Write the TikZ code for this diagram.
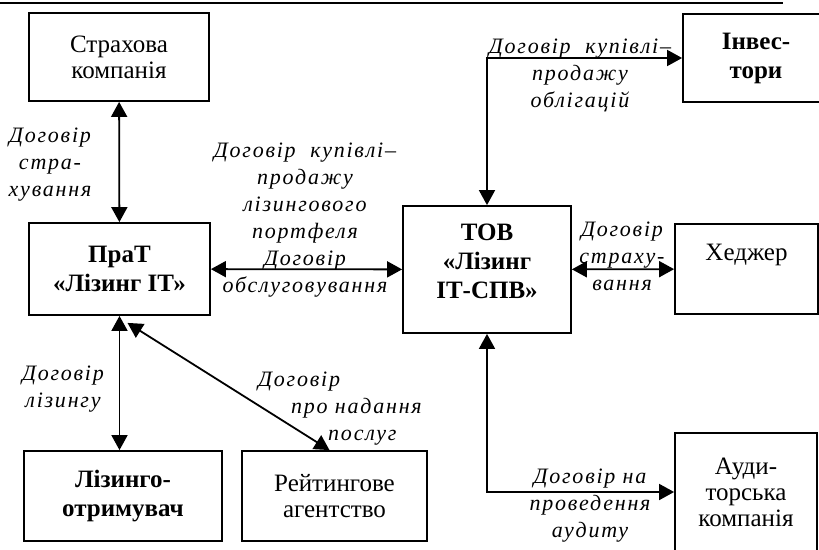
\documentclass[tikz,border=0pt]{standalone}
\usepackage{fontspec}
\setmainfont{Liberation Serif}
\newfontfamily\lblfont{Liberation Serif}[LetterSpace=8]
\usepackage{tikz}
\usetikzlibrary{arrows.meta,calc}
\newcommand{\lbl}[1]{{\lblfont\itshape #1}}

\begin{document}
\begin{tikzpicture}[x=1pt, y=-1pt, line width=1.8pt,
	every node/.style={align=center},
	party/.style={draw, line width=1.8pt, inner sep=0pt,
		font=\fontsize{25}{26}\selectfont},
	heavy/.style={party, font=\bfseries\fontsize{25}{29}\selectfont},
	deal/.style={font=\fontsize{22}{27}\selectfont},
	both/.style={{Triangle[length=15pt,width=16pt]}-{Triangle[length=15pt,width=16pt]}}]
	\useasboundingbox (0,0) rectangle (819,549);
	\draw (0,3) -- (783,3);
	% parties
	\node[party, minimum width=180pt, minimum height=88pt] (strah) at (119,57) {Страхова\\компанія};
	\node[heavy, minimum width=181pt, minimum height=92pt] (prat) at (119.5,269) {ПраТ\\«Лізинг ІТ»};
	\node[heavy, minimum width=168pt, minimum height=127pt] (tov) at (487,269.5) {ТОВ\\«Лізинг\\ІТ-СПВ»\\[-12pt]};
	\node[heavy, minimum width=146pt, minimum height=88pt] (invest) at (756,58) {Інвес-\\тори};
	\node[party, minimum width=143pt, minimum height=90pt, text height=17pt, text depth=35pt] (hedger) at (746.5,269) {Хеджер};
	\node[heavy, minimum width=198pt, minimum height=90pt] (lizotr) at (123,496) {Лізинго-\\отримувач};
	\node[party, minimum width=185pt, minimum height=90pt] (reyt) at (334.5,496) {Рейтингове\\агентство};
	\node[party, minimum width=142pt, minimum height=118pt] (audit) at (746,492) {Ауди-\\торська\\компанія};
	% contracts
	\draw[both] (strah) -- (prat);
	\draw[both] (prat) -- (tov);
	\draw[both] (prat.south) -- (prat.south |- lizotr.north);
	\draw[both] ($(prat.south)+(8,7)$) -- ($(reyt.north)+(-5,0)$);
	\draw[both] (tov.north) |- (invest.west);
	\draw[both] (tov) -- (hedger);
	\draw[both] (tov.south) |- (audit.west);
	% labels
	\node[deal] (lstrah) at (50,165) {\lbl{Договір}\\\lbl{стра-}\\\lbl{хування}};
	\node[deal] (lport) at (305,220) {\lbl{Договір\ \ купівлі–}\\\lbl{продажу}\\\lbl{лізингового}\\\lbl{портфеля}\\\lbl{Договір}\\\lbl{обслуговування}};
	\node[deal] (lobl) at (580,75) {\lbl{Договір\ \ купівлі–}\\\lbl{продажу}\\\lbl{облігацій}};
	\node[deal] (lhedg) at (622,256) {\lbl{Договір}\\\lbl{страху-}\\\lbl{вання}};
	\node[deal] (lliz) at (63,389) {\lbl{Договір}\\\lbl{лізингу}};
	\node[deal, align=left, anchor=west] (lreyt) at (254,409) {\lbl{Договір}\\\hspace*{33pt}\lbl{про надання}\\\hspace*{70pt}\lbl{послуг}};
	\node[deal] (laud) at (590,506) {\lbl{Договір на}\\\lbl{проведення}\\\lbl{аудиту}};
\end{tikzpicture}
\end{document}
